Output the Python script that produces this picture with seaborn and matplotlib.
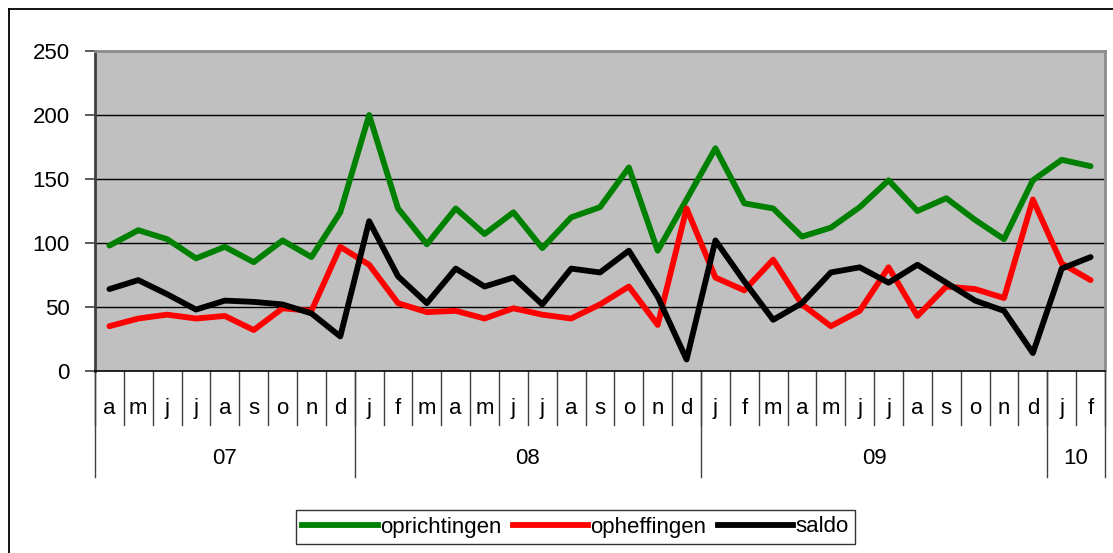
import matplotlib
matplotlib.use("Agg")
import matplotlib.pyplot as plt
from matplotlib.lines import Line2D
import seaborn as sns
import pandas as pd

months = ["a", "m", "j", "j", "a", "s", "o", "n", "d",
          "j", "f", "m", "a", "m", "j", "j", "a", "s", "o", "n", "d",
          "j", "f", "m", "a", "m", "j", "j", "a", "s", "o", "n", "d",
          "j", "f"]
years = ["07", "08", "09", "10"]
months_per_year = [9, 12, 12, 2]

oprichtingen = [98, 110, 103, 88, 97, 85, 102, 89, 124,
                200, 127, 99, 127, 107, 124, 96, 120, 128, 159, 94, 134,
                174, 131, 127, 105, 112, 128, 149, 125, 135, 118, 103, 149,
                165, 160]
opheffingen = [35, 41, 44, 41, 43, 32, 49, 47, 97,
               83, 53, 46, 47, 41, 49, 44, 41, 52, 66, 36, 127,
               73, 63, 87, 52, 35, 47, 81, 43, 66, 64, 57, 134,
               84, 71]
saldo = [64, 71, 60, 48, 55, 54, 52, 45, 27,
         117, 74, 53, 80, 66, 73, 52, 80, 77, 94, 58, 9,
         102, 70, 40, 53, 77, 81, 69, 83, 69, 55, 47, 14,
         80, 89]

series = {"oprichtingen": oprichtingen, "opheffingen": opheffingen, "saldo": saldo}
colors = {"oprichtingen": "#008000", "opheffingen": "#ff0000", "saldo": "#000000"}

df = pd.concat([pd.DataFrame({"idx": range(len(months)), "value": v, "reeks": k})
                for k, v in series.items()])

plt.rcParams["font.family"] = ["Liberation Sans", "DejaVu Sans"]
fs = 16

fig = plt.figure(figsize=(11.13, 5.53), dpi=100)
ax = fig.add_axes([95 / 1113, 1 - 371 / 553, 1010 / 1113, 320 / 553])
ax.set_facecolor("#c0c0c0")

sns.lineplot(data=df, x="idx", y="value", hue="reeks", palette=colors,
             linewidth=4.2, ax=ax, legend=False)
for ln in ax.lines:
    ln.set_solid_joinstyle("round")
    ln.set_solid_capstyle("round")

ax.set_xlim(-0.5, len(months) - 0.5)
ax.set_ylim(0, 250)
ax.set_yticks(range(0, 251, 50))
ax.tick_params(axis="y", labelsize=fs, length=7, width=1.2, color="#404040", pad=11)
ax.set_xticks([])
ax.set_xlabel("")
ax.set_ylabel("")
for y in range(50, 250, 50):
    ax.axhline(y, color="black", linewidth=1.0, zorder=1)

ax.spines["left"].set_color("#404040")
ax.spines["left"].set_linewidth(2)
ax.spines["top"].set_color("#8c8c8c")
ax.spines["right"].set_color("#8c8c8c")
ax.spines["top"].set_linewidth(2)
ax.spines["right"].set_linewidth(2)
ax.spines["bottom"].set_color("black")
ax.spines["bottom"].set_linewidth(1.2)

# two-level category axis
trans = ax.get_xaxis_transform()
for i in range(len(months) + 1):
    ax.plot([i - 0.5, i - 0.5], [0, -0.169], transform=trans, color="#404040",
            linewidth=1, clip_on=False)
for i, m in enumerate(months):
    ax.text(i, -0.116, m, transform=trans, ha="center", va="center", fontsize=fs)

start = 0
bounds = [0]
for y, n in zip(years, months_per_year):
    ax.text(start + (n - 1) / 2, -0.275, y, transform=trans, ha="center",
            va="center", fontsize=fs)
    start += n
    bounds.append(start)
for b in bounds:
    ax.plot([b - 0.5, b - 0.5], [0, -0.331], transform=trans, color="#404040",
            linewidth=1, clip_on=False)

# outer chart border
fig.add_artist(Line2D([9 / 1113, 9 / 1113], [0, 1 - 9 / 553], color="black", linewidth=1.3))
fig.add_artist(Line2D([9 / 1113, 1], [1 - 9 / 553, 1 - 9 / 553], color="black", linewidth=1.3))

handles = [Line2D([], [], color=colors[k], linewidth=4.2) for k in series]
leg = fig.legend(handles, list(series), loc="center", ncol=3,
                 bbox_to_anchor=(575.5 / 1113, 1 - 527 / 553), fontsize=fs,
                 frameon=True, fancybox=False, edgecolor="black",
                 handlelength=3.4, handletextpad=0.1, columnspacing=0.5,
                 borderpad=0.3, borderaxespad=0)
leg.get_frame().set_linewidth(1.0)

fig.savefig("out.png", dpi=100)
